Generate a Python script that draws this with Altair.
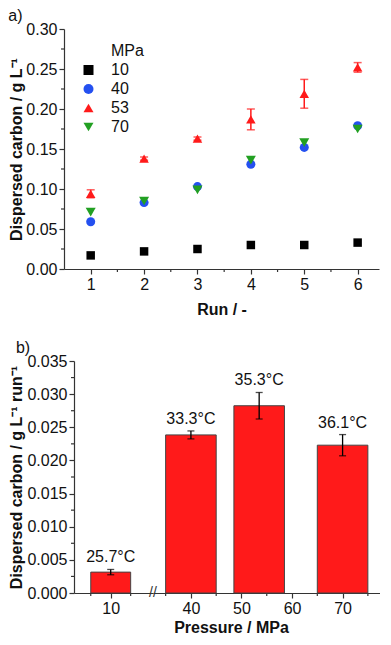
import altair as alt
import pandas as pd

# ---------------- panel a data ----------------
runs = [1, 2, 3, 4, 5, 6]
series = ["10", "40", "53", "70"]
carbon_10 = [0.017, 0.022, 0.025, 0.030, 0.030, 0.033]
carbon_40 = [0.059, 0.083, 0.103, 0.131, 0.152, 0.179]
carbon_53 = [0.094, 0.138, 0.163, 0.187, 0.219, 0.252]
carbon_70 = [0.071, 0.085, 0.099, 0.136, 0.158, 0.175]
err_53 = [0.005, 0.002, 0.002, 0.013, 0.018, 0.006]

run_major = [1, 2, 3, 4, 5, 6]
run_minor = [1.5, 2.5, 3.5, 4.5, 5.5]
carbon_major = [0, 0.05, 0.10, 0.15, 0.20, 0.25, 0.30]
carbon_minor = [0.025, 0.075, 0.125, 0.175, 0.225, 0.275]

# ---------------- panel b data ----------------
pressure = [10, 40, 53.5, 70]
rate = [0.00315, 0.02385, 0.02825, 0.0223]
rate_err = [0.0004, 0.0006, 0.002, 0.0016]
temps = ["25.7°C", "33.3°C", "35.3°C", "36.1°C"]
p_major_left = [10]
p_minor_left = [5, 15]
p_major_right = [40, 50, 60, 70]
p_minor_right = [35, 45, 55, 65, 75]
rate_major = [0, 0.005, 0.01, 0.015, 0.02, 0.025, 0.03, 0.035]
rate_minor = [0.0025, 0.0075, 0.0125, 0.0175, 0.0225, 0.0275, 0.0325]

# ---------------- styles ----------------
FONT = "Liberation Sans"
AXC = "#333333"
RED = "#ff1a1a"
LEGEND_HEAD = "MPa"
legend_domain = [LEGEND_HEAD] + series
colors = ["rgba(0,0,0,0)", "#000000", "#2450f0", RED, "#22a022"]
shapes = ["circle", "square", "circle", "triangle-up", "triangle-down"]
sizes = [72, 100, 140, 140]

LEFT_DOMAIN = [0.8, 20.6]
RIGHT_DOMAIN = [32.5, 77.4]
TOP_W, TOP_H = 315, 240
BOT_H = 232


def axis(title, values, fmt, **kw):
    return alt.Axis(title=title, values=values, format=fmt, tickSize=5,
                    labelFlush=False, labelOverlap=False, labelPadding=2,
                    grid=False, **kw)


def minor_y(values, scale, ax):
    return alt.Chart(pd.DataFrame({"m": values})).mark_rule(
        color=AXC, strokeWidth=1.2).encode(
        y=alt.Y("m:Q", scale=scale, axis=ax),
        x=alt.value(0), x2=alt.value(-3))


def minor_x(values, scale, ax, height):
    return alt.Chart(pd.DataFrame({"m": values})).mark_rule(
        color=AXC, strokeWidth=1.2).encode(
        x=alt.X("m:Q", scale=scale, axis=ax),
        y=alt.value(height), y2=alt.value(height + 3))


# ---------------- panel a ----------------
rows = []
for s, vals in zip(series, [carbon_10, carbon_40, carbon_53, carbon_70]):
    for r, v in zip(runs, vals):
        rows.append({"run": r, "MPa": s, "carbon": v})
pts = pd.DataFrame(rows)
err_df = pd.DataFrame({"run": runs, "carbon": carbon_53, "err": err_53})

xs_top = alt.Scale(domain=[0.5, 6.4], nice=False, zero=False)
ys_top = alt.Scale(domain=[0, 0.30], nice=False)
xa_top = axis("Run / -", run_major, "d", titlePadding=9)
ya_top = axis("Dispersed carbon / g L\u207b\u00b9", carbon_major, ".2f", titlePadding=1.5)

leg = alt.Legend(
    title=None, orient="none", legendX=16.5, legendY=14,
    labelFontSize=16, labelFont=FONT, labelColor="#111",
    symbolSize=100, symbolStrokeWidth=0, labelOffset=14.5,
    rowPadding=3, padding=0)

ebars = alt.Chart(err_df).mark_errorbar(
    color=RED, thickness=1.5, ticks={"size": 8, "thickness": 1.5}
).encode(
    x=alt.X("run:Q", scale=xs_top, axis=xa_top),
    y=alt.Y("carbon:Q", scale=ys_top, axis=ya_top),
    yError="err:Q",
)

points = alt.Chart(pts).mark_point(filled=True, opacity=1).encode(
    x=alt.X("run:Q", scale=xs_top, axis=xa_top),
    y=alt.Y("carbon:Q", scale=ys_top, axis=ya_top),
    color=alt.Color("MPa:N", scale=alt.Scale(domain=legend_domain, range=colors),
                    legend=leg),
    shape=alt.Shape("MPa:N", scale=alt.Scale(domain=legend_domain, range=shapes),
                    legend=leg),
    size=alt.Size("MPa:N", scale=alt.Scale(domain=series, range=sizes), legend=None),
)

top = alt.layer(
    minor_y(carbon_minor, ys_top, ya_top), minor_x(run_minor, xs_top, xa_top, TOP_H),
    ebars, points,
).properties(
    width=TOP_W, height=TOP_H,
    title=alt.TitleParams("a)", anchor="start", fontSize=16, fontWeight="normal",
                          offset=-3),
)

# ---------------- panel b ----------------
bdf = pd.DataFrame({"p": pressure, "v": rate, "e": rate_err, "t": temps})
ys_b = alt.Scale(domain=[0, 0.035], nice=False)


def panel(domain, flt, width, xa, ya, minors, extra=None):
    xs = alt.Scale(domain=domain, nice=False, zero=False)
    base = alt.Chart(bdf).transform_filter(flt).transform_calculate(
        p0="datum.p - 5", p1="datum.p + 5", top="datum.v + datum.e")
    bars = base.mark_bar(color=RED, stroke="#444444", strokeWidth=1).encode(
        x=alt.X("p0:Q", scale=xs, axis=xa), x2="p1:Q",
        y=alt.Y("v:Q", scale=ys_b, axis=ya), y2=alt.datum(0))
    errs = base.mark_errorbar(color="black", thickness=1.3,
                              ticks={"size": 7, "thickness": 1.3}).encode(
        x=alt.X("p:Q", scale=xs, axis=xa),
        y=alt.Y("v:Q", scale=ys_b, axis=ya), yError="e:Q")
    labels = base.mark_text(baseline="alphabetic", dy=-7, fontSize=16,
                            font=FONT, color="#111").encode(
        x=alt.X("p:Q", scale=xs, axis=xa),
        y=alt.Y("top:Q", scale=ys_b, axis=ya), text="t:N")
    layers = [minor_x(minors, xs, xa, BOT_H)]
    if ya is not None:
        layers.append(minor_y(rate_minor, ys_b, ya))
    layers += [bars, errs, labels]
    if extra is not None:
        layers.append(extra)
    return alt.layer(*layers).properties(width=width, height=BOT_H)


xa_left = axis(None, p_major_left, "d")
ya_left = axis("Dispersed carbon / g L\u207b\u00b9 run\u207b\u00b9", rate_major, ".3f",
               titlePadding=2)
xa_right = axis("Pressure / MPa", p_major_right, "d", titlePadding=3, titleX=78)

brk = alt.Chart(pd.DataFrame({"k": [0]})).mark_text(
    text="//", fontSize=14, color=AXC, baseline="middle", align="center"
).encode(x=alt.X(datum=LEFT_DOMAIN[1], axis=xa_left),
         y=alt.Y(datum=0, axis=ya_left))

left = panel(LEFT_DOMAIN, "datum.p < 30", 79, xa_left, ya_left, p_minor_left, extra=brk)
right = panel(RIGHT_DOMAIN, "datum.p > 30", 227, xa_right, None, p_minor_right)

spacer = alt.Chart(pd.DataFrame({"k": [0]})).mark_point(opacity=0).encode(
    x=alt.value(0), y=alt.value(0)).properties(width=10, height=BOT_H)

bottom = alt.hconcat(spacer, left, right, spacing=0, bounds="flush").properties(
    title=alt.TitleParams("b)", anchor="start", dx=7, fontSize=16, fontWeight="normal",
                          offset=-3))

chart = alt.vconcat(top, bottom, spacing=23).properties(padding=0).configure(
    font=FONT
).configure_view(stroke=None).configure_axis(
    labelFont=FONT, titleFont=FONT, labelFontSize=16, titleFontSize=16,
    titleFontWeight="bold", labelColor="#111", titleColor="#111",
    domainColor=AXC, tickColor=AXC, domainWidth=1.2, tickWidth=1.2,
).configure_title(font=FONT, fontSize=16, fontWeight="normal", color="#111")

chart.save("out.html", embed_options={"renderer": "svg", "actions": False})
